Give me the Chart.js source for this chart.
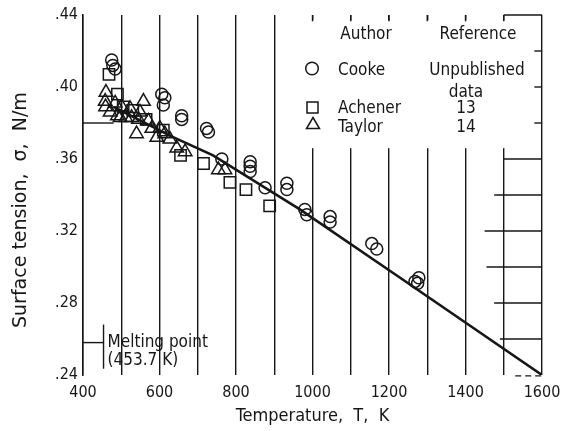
<!DOCTYPE html>
<html>
<head>
<meta charset="utf-8">
<script src="https://cdn.jsdelivr.net/npm/chart.js@4.4.1/dist/chart.umd.min.js"></script>
<style>
  html, body { margin: 0; padding: 0; background: #fff; }
  canvas { display: block; }
</style>
</head>
<body>
<canvas id="tensionChart" width="563" height="431"></canvas>
<script>
// Cooke (circles), unpublished data
var cookeT = [475, 478, 484, 606, 614, 610, 658, 658, 723, 728, 763, 837, 837, 837, 876, 933, 933, 980, 985, 1046, 1046, 1155, 1168, 1268, 1275, 1278];
var cookeS = [0.415, 0.412, 0.410, 0.396, 0.394, 0.390, 0.384, 0.382, 0.377, 0.375, 0.360, 0.3585, 0.356, 0.353, 0.344, 0.3465, 0.343, 0.332, 0.329, 0.328, 0.325, 0.313, 0.310, 0.292, 0.291, 0.294];

// Achener (squares), ref 13
var achenerT = [468, 490, 505, 530, 565, 610, 655, 715, 784, 826, 888];
var achenerS = [0.407, 0.396, 0.389, 0.387, 0.382, 0.376, 0.362, 0.3575, 0.347, 0.343, 0.334];

// Taylor (triangles), ref 14
var taylorT = [460, 458, 459, 471, 484, 501, 523, 558, 549, 527, 497, 545, 571, 580, 601, 614, 593, 627, 540, 667, 645, 754, 771, 512, 490];
var taylorS = [0.397, 0.392, 0.389, 0.386, 0.391, 0.389, 0.388, 0.392, 0.386, 0.383, 0.383, 0.382, 0.381, 0.377, 0.377, 0.374, 0.372, 0.371, 0.374, 0.364, 0.366, 0.354, 0.354, 0.383, 0.384];

// faired line
var fitT = [480, 627, 740, 967, 1229, 1600];
var fitS = [0.389, 0.373, 0.362, 0.332, 0.294, 0.240];

var meltingPoint = 453.7;

var FONT = "'DejaVu Sans Condensed', 'DejaVu Sans', sans-serif";
var INK = '#161616';

Chart.defaults.font.family = FONT;
Chart.defaults.color = INK;

function pts(xs, ys) {
  return xs.map(function (v, i) { return { x: v, y: ys[i] }; });
}

// grid pieces, key and notes that the paper figure has
var paperPlugin = {
  id: 'paper',
  beforeDatasetsDraw: function (chart) {
    var ctx = chart.ctx, x = chart.scales.x, y = chart.scales.y;
    var X = function (v) { return x.getPixelForValue(v); };
    var Y = function (v) { return y.getPixelForValue(v); };
    ctx.save();
    // no grid behind the key
    ctx.fillStyle = '#fff';
    ctx.fillRect(X(955), Y(0.437), X(1545) - X(955), Y(0.366) - Y(0.437));

    ctx.strokeStyle = INK;
    ctx.lineWidth = 1.4;
    function seg(t1, s1, t2, s2) {
      ctx.beginPath();
      ctx.moveTo(X(t1), Y(s1));
      ctx.lineTo(X(t2), Y(s2));
      ctx.stroke();
    }
    seg(1500, 0.44, 1600, 0.44);
    [0.42, 0.40, 0.38].forEach(function (s) { seg(1580, s, 1600, s); });
    seg(1500, 0.36, 1600, 0.36);
    [[0.34, 1475], [0.32, 1450], [0.30, 1455], [0.28, 1475], [0.26, 1490]].forEach(function (p) {
      seg(p[1], p[0], 1600, p[0]);
    });
    seg(400, 0.38, 480, 0.38);
    for (var t = 1000; t <= 1500; t += 100) seg(t, 0.44, t, 0.4365);

    // melting point bracket
    seg(meltingPoint, 0.268, meltingPoint, 0.2435);
    seg(400, 0.258, meltingPoint, 0.258);

    ctx.setLineDash([6, 4]);
    seg(1530, 0.2395, 1600, 0.2395);
    ctx.restore();
  },
  afterDatasetsDraw: function (chart) {
    var ctx = chart.ctx, x = chart.scales.x;
    ctx.save();
    ctx.fillStyle = INK;
    ctx.strokeStyle = INK;
    ctx.lineWidth = 1.5;
    ctx.font = '17px ' + FONT;
    ctx.textBaseline = 'alphabetic';

    // melting point note
    var mx = x.getPixelForValue(meltingPoint) + 4;
    ctx.textAlign = 'left';
    ctx.fillText('Melting point', mx, 347);
    ctx.fillText('(453.7 K)', mx, 365);

    // key
    ctx.textAlign = 'center';
    ctx.fillText('Author', 366, 39);
    ctx.fillText('Reference', 478, 39);
    ctx.fillText('Unpublished', 477, 75);
    ctx.fillText('data', 466, 97);
    ctx.fillText('13', 466, 113);
    ctx.fillText('14', 466, 132);
    ctx.textAlign = 'left';
    ctx.fillText('Cooke', 338, 75);
    ctx.fillText('Achener', 338, 113);
    ctx.fillText('Taylor', 338, 132);

    ctx.beginPath();
    ctx.arc(312, 68.5, 6.3, 0, Math.PI * 2);
    ctx.stroke();
    ctx.strokeRect(307, 102, 11, 11);
    ctx.beginPath();
    ctx.moveTo(313, 117.5);
    ctx.lineTo(319.5, 128.5);
    ctx.lineTo(306.5, 128.5);
    ctx.closePath();
    ctx.stroke();
    ctx.restore();
  }
};

var ctx = document.getElementById('tensionChart').getContext('2d');
var tensionChart = new Chart(ctx, {
  type: 'scatter',
  data: {
    datasets: [
      {
        label: 'Cooke',
        data: pts(cookeT, cookeS),
        pointStyle: 'circle',
        pointRadius: 6,
        borderColor: INK,
        backgroundColor: 'rgba(0,0,0,0)',
        borderWidth: 1.5
      },
      {
        label: 'Achener',
        data: pts(achenerT, achenerS),
        pointStyle: 'rect',
        pointRadius: 8,
        borderColor: INK,
        backgroundColor: 'rgba(0,0,0,0)',
        borderWidth: 1.5
      },
      {
        label: 'Taylor',
        data: pts(taylorT, taylorS),
        pointStyle: 'triangle',
        pointRadius: 7.8,
        borderColor: INK,
        backgroundColor: 'rgba(0,0,0,0)',
        borderWidth: 1.5
      },
      {
        type: 'line',
        label: 'Faired',
        data: pts(fitT, fitS),
        borderColor: INK,
        borderWidth: 2.6,
        pointRadius: 0,
        fill: false,
        tension: 0
      }
    ]
  },
  options: {
    responsive: false,
    animation: false,
    layout: { padding: { top: 15, right: 21, left: 0, bottom: 0 } },
    plugins: {
      legend: { display: false },
      tooltip: { enabled: false }
    },
    scales: {
      x: {
        type: 'linear',
        min: 400,
        max: 1600,
        ticks: {
          stepSize: 100,
          autoSkip: false,
          maxRotation: 0,
          padding: 8,
          color: INK,
          font: { size: 16 },
          callback: function (v) { return v % 200 === 0 ? String(v) : ''; }
        },
        grid: { color: INK, lineWidth: 1.4, drawTicks: false },
        border: { display: false },
        title: {
          display: true,
          text: 'Temperature,  T,  K',
          color: INK,
          font: { size: 18 },
          padding: { top: 0, bottom: 4 }
        },
        afterFit: function (s) {
          s.height = 56;
          s.paddingLeft = 0;
          s.paddingRight = 0;
        }
      },
      y: {
        min: 0.24,
        max: 0.44,
        ticks: {
          stepSize: 0.04,
          padding: 5,
          color: INK,
          font: { size: 16 },
          callback: function (v) { return '.' + Math.round(v * 100); }
        },
        grid: { display: false, drawTicks: false },
        border: { display: true, color: INK, width: 1.5 },
        title: {
          display: true,
          text: 'Surface tension,  σ,  N/m' + '\u00a0\u00a0\u00a0\u00a0\u00a0',
          color: INK,
          font: { family: "'DejaVu Sans', sans-serif", size: 19 },
          padding: { top: 10, bottom: 0 }
        },
        afterFit: function (s) { s.width = 83; }
      }
    }
  },
  plugins: [paperPlugin]
});
</script>
</body>
</html>
